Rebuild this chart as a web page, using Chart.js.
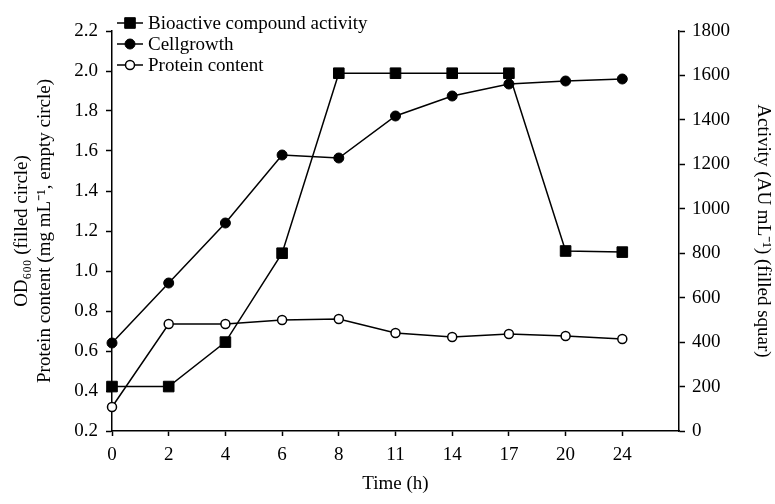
<!DOCTYPE html>
<html>
<head>
<meta charset="utf-8">
<script src="https://cdn.jsdelivr.net/npm/chart.js@4/dist/chart.umd.min.js"></script>
<style>
  html, body { margin: 0; padding: 0; background: #fff; }
  #wrap { width: 775px; height: 504px; }
</style>
</head>
<body>
<div id="wrap"><canvas id="c"></canvas></div>
<script>
// time points (h), shown evenly spaced
const timeLabels = ['0', '2', '4', '6', '8', '11', '14', '17', '20', '24'];
// AU mL-1, right axis
const activity = [200, 200, 400, 800, 1610, 1610, 1610, 1610, 810, 805];
// OD600, left axis
const cellGrowth = [0.64, 0.94, 1.24, 1.58, 1.565, 1.775, 1.875, 1.935, 1.95, 1.96];
// mg mL-1, left axis
const protein = [0.32, 0.735, 0.735, 0.755, 0.76, 0.69, 0.67, 0.685, 0.675, 0.66];

const FONT = '"Liberation Serif", "Times New Roman", serif';
const toPts = arr => arr.map((v, i) => ({ x: i, y: v }));

// legend: short line with marker, like the original
const lineLegend = {
  id: 'lineLegend',
  afterDraw(chart) {
    const ctx = chart.ctx;
    ctx.save();
    chart.data.datasets.forEach((ds, i) => {
      const y = 23 + i * 21;
      ctx.strokeStyle = '#000';
      ctx.lineWidth = 1.5;
      ctx.beginPath();
      ctx.moveTo(117, y);
      ctx.lineTo(143, y);
      ctx.stroke();
      ctx.fillStyle = ds.pointBackgroundColor;
      ctx.strokeStyle = '#000';
      ctx.lineWidth = ds.pointBorderWidth;
      Chart.helpers.drawPoint(ctx, { pointStyle: ds.pointStyle, radius: ds.pointRadius, rotation: 0, borderWidth: ds.pointBorderWidth }, 130, y);
      ctx.fillStyle = '#000';
      ctx.font = '19px ' + FONT;
      ctx.textBaseline = 'middle';
      ctx.textAlign = 'left';
      ctx.fillText(ds.label, 148, y + 1);
    });
    ctx.restore();
  }
};

const axisBase = {
  grid: { drawOnChartArea: false, drawTicks: true, tickLength: 6, tickColor: '#000', tickWidth: 1.5 },
  border: { display: true, color: '#000', width: 1.5 },
  ticks: { color: '#000', font: { family: FONT, size: 19 } }
};

new Chart(document.getElementById('c'), {
  type: 'line',
  data: {
    datasets: [
      { label: 'Bioactive compound activity', data: toPts(activity), yAxisID: 'y2',
        borderColor: '#000', borderWidth: 1.5, pointStyle: 'rect', pointRadius: 7.5,
        pointBackgroundColor: '#000', pointBorderColor: '#000', pointBorderWidth: 1, clip: false },
      { label: 'Cellgrowth', data: toPts(cellGrowth), yAxisID: 'y',
        borderColor: '#000', borderWidth: 1.5, pointStyle: 'circle', pointRadius: 5,
        pointBackgroundColor: '#000', pointBorderColor: '#000', pointBorderWidth: 1, clip: false },
      { label: 'Protein content', data: toPts(protein), yAxisID: 'y',
        borderColor: '#000', borderWidth: 1.5, pointStyle: 'circle', pointRadius: 4.5,
        pointBackgroundColor: '#fff', pointBorderColor: '#000', pointBorderWidth: 1.5, clip: false }
    ]
  },
  options: {
    responsive: true,
    maintainAspectRatio: false,
    animation: false,
    layout: { padding: { top: 31, left: 0, right: 0, bottom: 0 } },
    plugins: { legend: { display: false }, tooltip: { enabled: false } },
    elements: { line: { tension: 0 } },
    scales: {
      x: {
        ...axisBase,
        type: 'linear', min: 0, max: 10,
        grid: { ...axisBase.grid, tickLength: 5 },
        afterBuildTicks: s => { s.ticks = s.ticks.filter(t => t.value < 10); },
        ticks: { ...axisBase.ticks, stepSize: 1, padding: 8, maxRotation: 0, autoSkip: false,
          callback: v => timeLabels[v] ?? '' },
        title: { display: true, text: 'Time (h)', color: '#000', font: { family: FONT, size: 19 }, padding: { top: 0, bottom: 9 } },
        afterFit: s => { s.height = 73; }
      },
      y: {
        ...axisBase,
        position: 'left', min: 0.2, max: 2.2,
        ticks: { ...axisBase.ticks, stepSize: 0.2, padding: 8, callback: v => v.toFixed(1) },
        title: { display: true, color: '#000', font: { family: FONT, size: 19, lineHeight: 1.2 }, padding: { top: 11, bottom: 0 },
          text: ['OD\u2086\u2080\u2080 (filled circle)', 'Protein content (mg mL\u207B\u00B9, empty circle)'] },
        afterFit: s => { s.width = 112; }
      },
      y2: {
        ...axisBase,
        position: 'right', min: 0, max: 1800,
        ticks: { ...axisBase.ticks, stepSize: 200, padding: 7, callback: v => String(v) },
        title: { display: true, color: '#000', font: { family: FONT, size: 19 }, padding: { top: 1, bottom: 0 },
          text: 'Activity (AU mL\u207B\u00B9) (filled squar)' },
        afterFit: s => { s.width = 96; }
      }
    }
  },
  plugins: [lineLegend]
});
</script>
</body>
</html>
